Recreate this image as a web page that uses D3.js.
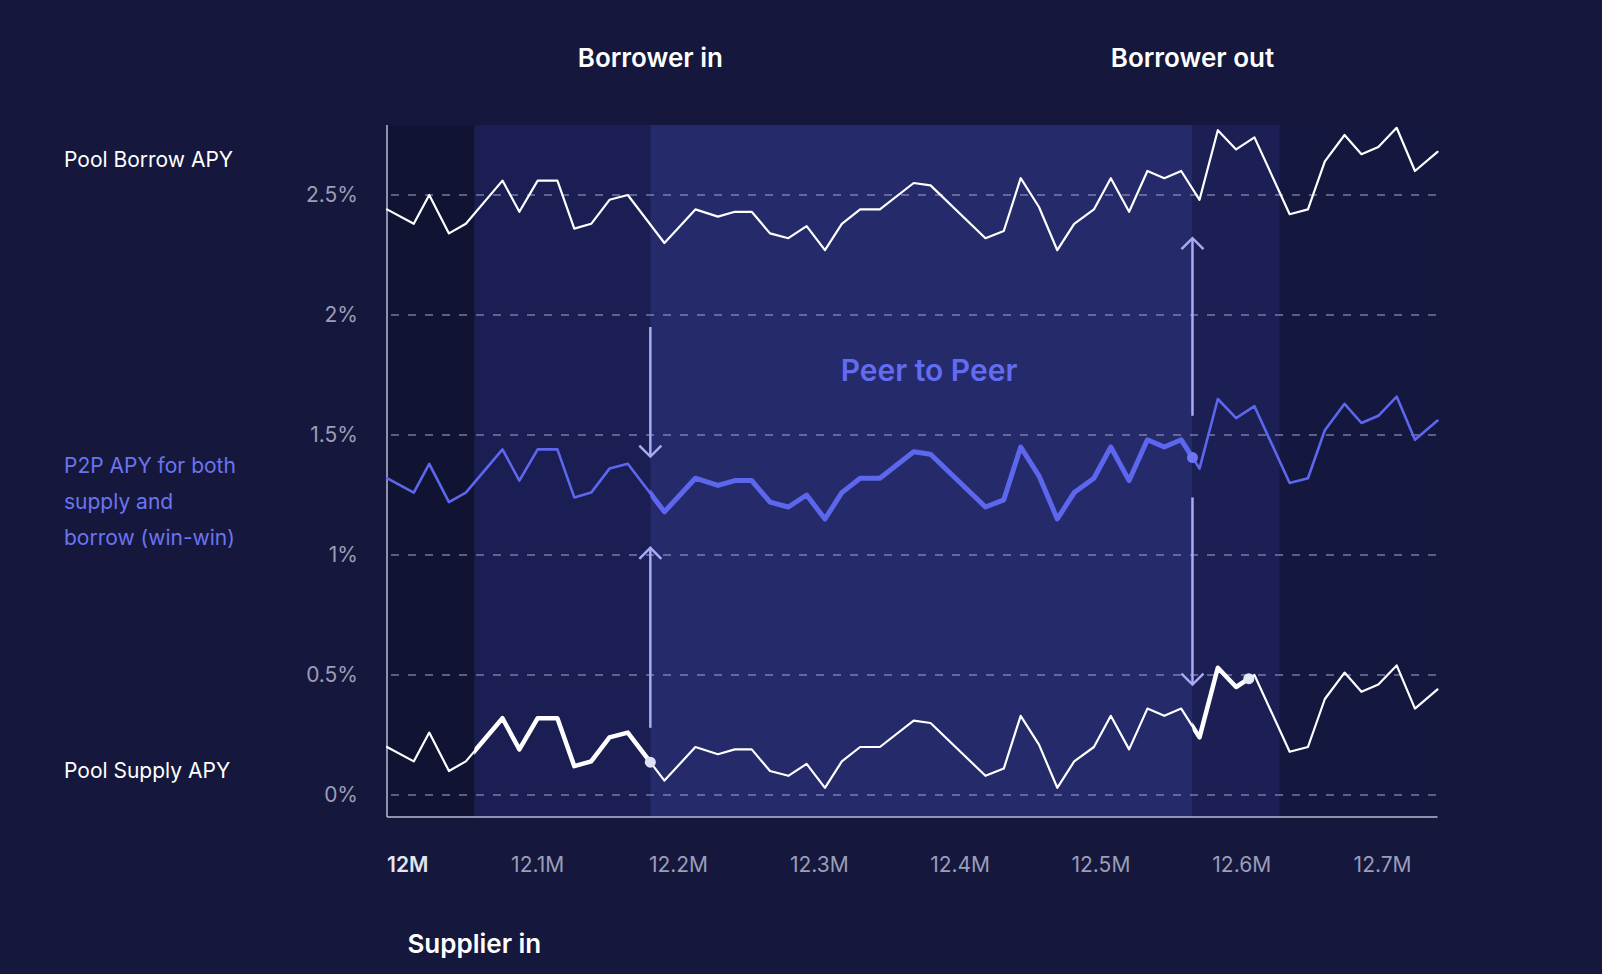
<!DOCTYPE html>
<html><head><meta charset="utf-8">
<script src="https://cdn.jsdelivr.net/npm/d3@7"></script>
<style>body{margin:0;background:#15183c;}svg{display:block;font-family:Inter,"Noto Sans",sans-serif;}</style>
</head><body><svg id="c" width="1602" height="974"></svg>
<script>
const xs = [11.993,12.012,12.023,12.037,12.049,12.075,12.087,12.100,12.114,12.126,12.138,12.151,12.164,12.190,12.212,12.228,12.240,12.252,12.265,12.278,12.291,12.304,12.316,12.329,12.343,12.367,12.379,12.418,12.431,12.443,12.456,12.469,12.481,12.495,12.507,12.520,12.533,12.545,12.557,12.570,12.583,12.596,12.609,12.634,12.647,12.659,12.673,12.685,12.697,12.710,12.723,12.739];
const poolBorrow = [2.44,2.38,2.50,2.34,2.38,2.56,2.43,2.56,2.56,2.36,2.38,2.48,2.50,2.30,2.44,2.41,2.43,2.43,2.34,2.32,2.37,2.27,2.38,2.44,2.44,2.55,2.54,2.32,2.35,2.57,2.45,2.27,2.38,2.44,2.57,2.43,2.60,2.57,2.60,2.48,2.77,2.69,2.74,2.42,2.44,2.64,2.75,2.67,2.70,2.78,2.60,2.68];
const p2p = [1.32,1.26,1.38,1.22,1.26,1.44,1.31,1.44,1.44,1.24,1.26,1.36,1.38,1.18,1.32,1.29,1.31,1.31,1.22,1.20,1.25,1.15,1.26,1.32,1.32,1.43,1.42,1.20,1.23,1.45,1.33,1.15,1.26,1.32,1.45,1.31,1.48,1.45,1.48,1.36,1.65,1.57,1.62,1.30,1.32,1.52,1.63,1.55,1.58,1.66,1.48,1.56];
const poolSupply = [0.20,0.14,0.26,0.10,0.14,0.32,0.19,0.32,0.32,0.12,0.14,0.24,0.26,0.06,0.20,0.17,0.19,0.19,0.10,0.08,0.13,0.03,0.14,0.20,0.20,0.31,0.30,0.08,0.11,0.33,0.21,0.03,0.14,0.20,0.33,0.19,0.36,0.33,0.36,0.24,0.53,0.45,0.50,0.18,0.20,0.40,0.51,0.43,0.46,0.54,0.36,0.44];
const yTicks = [0,0.5,1,1.5,2,2.5];
const yTickLabels = ["0%","0.5%","1%","1.5%","2%","2.5%"];
const xTicks = [12.0,12.1,12.2,12.3,12.4,12.5,12.6,12.7];
const xTickLabels = ["12M","12.1M","12.2M","12.3M","12.4M","12.5M","12.6M","12.7M"];
const regions = [ {x0:11.993,x1:12.055,c:"#111333"}, {x0:12.055,x1:12.18,c:"#1b1e52"}, {x0:12.18,x1:12.565,c:"#252a6a"}, {x0:12.565,x1:12.627,c:"#1c1f53"}, {x0:12.627,x1:12.739,c:"#14173e"} ];
const marks = {borrowerIn:12.18, borrowerOut:12.565, supplierIn:12.055, outEnd:12.627};

const svg = d3.select("#c");
const x = d3.scaleLinear().domain([11.993,12.739]).range([387,1437.5]);
const y = d3.scaleLinear().domain([0,2.5]).range([795,195]);
const yTop = 125, yBot = 817;

svg.append("rect").attr("width",1602).attr("height",974).attr("fill","#15183c");
svg.selectAll("rect.reg").data(regions).join("rect").attr("class","reg")
  .attr("x",d=>x(d.x0)).attr("width",d=>x(d.x1)-x(d.x0)).attr("y",yTop).attr("height",yBot-yTop).attr("fill",d=>d.c);

// grid
svg.selectAll("line.grid").data(yTicks).join("line").attr("class","grid")
  .attr("x1",x.range()[0]+4).attr("x2",x.range()[1]).attr("y1",d=>y(d)).attr("y2",d=>y(d))
  .attr("stroke","#9599c4").attr("stroke-opacity",0.75).attr("stroke-width",1.6).attr("stroke-dasharray","8,9");
svg.selectAll("text.yt").data(yTicks).join("text").attr("class","yt")
  .attr("x",358).attr("y",d=>y(d)+7).attr("text-anchor","end").attr("font-size",21).attr("fill","#9b9db9")
  .text((d,i)=>yTickLabels[i]);
// axes lines
svg.append("line").attr("x1",387).attr("x2",387).attr("y1",yTop).attr("y2",yBot).attr("stroke","#b9bbd6").attr("stroke-width",1.5);
svg.append("line").attr("x1",387).attr("x2",1437.5).attr("y1",yBot).attr("y2",yBot).attr("stroke","#b9bbd6").attr("stroke-width",1.5);
svg.selectAll("text.xt").data(xTicks).join("text").attr("class","xt")
  .attr("x",(d,i)=>i===0?387:x(d)).attr("y",872).attr("text-anchor",(d,i)=>i===0?"start":"middle")
  .attr("font-size",21).attr("fill",(d,i)=>i===0?"#e4e5f2":"#9b9db9").attr("font-weight",(d,i)=>i===0?600:400)
  .text((d,i)=>xTickLabels[i]);

// clips
const defs = svg.append("defs");
function clip(id,a,b){defs.append("clipPath").attr("id",id).append("rect").attr("x",x(a)).attr("width",x(b)-x(a)).attr("y",0).attr("height",974);}
clip("cS1",marks.supplierIn,marks.borrowerIn);
clip("cP",marks.borrowerIn,marks.borrowerOut);
clip("cS2",marks.borrowerOut,12.605);

const line = d3.line().x((d,i)=>x(xs[i])).y(d=>y(d));
function path(data,col,w,clipId){const p=svg.append("path").attr("d",line(data)).attr("fill","none").attr("stroke",col).attr("stroke-width",w).attr("stroke-linejoin","round").attr("stroke-linecap","round"); if(clipId)p.attr("clip-path",`url(#${clipId})`);}
path(poolBorrow,"#ffffff",2.2);
path(p2p,"#5d67ee",2.6);
path(p2p,"#5d67ee",5,"cP");
path(poolSupply,"#ffffff",2.2);
path(poolSupply,"#ffffff",4.5,"cS1");
path(poolSupply,"#ffffff",4.5,"cS2");

function interp(arr,xv){const i=d3.bisectRight(xs,xv)-1;const t=(xv-xs[i])/(xs[i+1]-xs[i]);return arr[i]+t*(arr[i+1]-arr[i]);}
const dots=[{xv:marks.borrowerIn,arr:poolSupply,c:"#dfe0f5"},{xv:marks.borrowerOut,arr:p2p,c:"#6c75f2"},{xv:12.605,arr:poolSupply,c:"#e6e7f7"}];
svg.selectAll("circle.dot").data(dots).join("circle").attr("cx",d=>x(d.xv)).attr("cy",d=>y(interp(d.arr,d.xv))).attr("r",5.5).attr("fill",d=>d.c);

// arrows
const arrows=[{xv:marks.borrowerIn,from:1.95,to:1.41},{xv:marks.borrowerIn,from:0.28,to:1.03},{xv:marks.borrowerOut,from:1.58,to:2.32},{xv:marks.borrowerOut,from:1.24,to:0.46}];
arrows.forEach(a=>{
  const X=x(a.xv),y1=y(a.from),y2=y(a.to),dir=y2>y1?1:-1;
  svg.append("line").attr("x1",X).attr("x2",X).attr("y1",y1).attr("y2",y2).attr("stroke","#a7abf3").attr("stroke-width",2.5);
  svg.append("path").attr("d",`M${X-11},${y2-dir*11}L${X},${y2}L${X+11},${y2-dir*11}`).attr("fill","none").attr("stroke","#a7abf3").attr("stroke-width",2.5);
});

// titles
function txt(t,xp,yp,size,col,w,anchor){svg.append("text").attr("x",xp).attr("y",yp).attr("font-size",size).attr("fill",col).attr("font-weight",w).attr("text-anchor",anchor||"start").text(t);}
txt("Borrower in",x(marks.borrowerIn),67,26,"#ffffff",600,"middle");
txt("Borrower out",x(marks.borrowerOut),67,26,"#ffffff",600,"middle");
txt("Supplier in",x(marks.supplierIn),953,26,"#ffffff",600,"middle");
txt("Peer to Peer",929,381,30,"#626cf2",600,"middle");
txt("Pool Borrow APY",64,167,21,"#ffffff",400);
txt("P2P APY for both",64,473,21,"#6b74f0",400);
txt("supply and",64,509,21,"#6b74f0",400);
txt("borrow (win-win)",64,545,21,"#6b74f0",400);
txt("Pool Supply APY",64,778,21,"#ffffff",400);
</script></body></html>
